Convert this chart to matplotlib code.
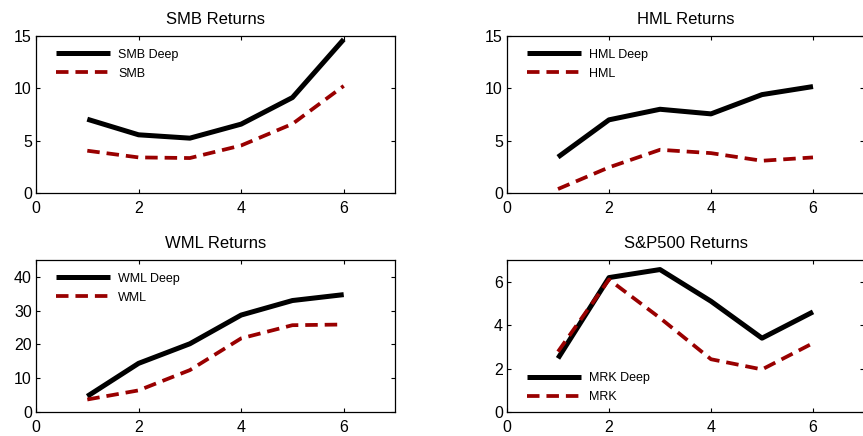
import matplotlib
matplotlib.use("Agg")
import matplotlib.pyplot as plt

plt.rcParams['font.family'] = ['Liberation Sans', 'DejaVu Sans']
plt.rcParams['lines.scale_dashes'] = False

horizon = [1, 2, 3, 4, 5, 6]

smb_deep = [7.05, 5.56, 5.24, 6.58, 9.12, 14.68]
smb = [4.04, 3.40, 3.34, 4.54, 6.60, 10.23]

hml_deep = [3.43, 6.99, 8.00, 7.56, 9.40, 10.17]
hml = [0.38, 2.45, 4.13, 3.81, 3.08, 3.40]

wml_deep = [4.65, 14.4, 20.2, 28.7, 33.0, 34.75]
wml = [3.7, 6.4, 12.4, 21.8, 25.7, 25.9]

mrk_deep = [2.47, 6.19, 6.56, 5.10, 3.40, 4.61]
mrk = [2.78, 6.10, 4.33, 2.43, 1.96, 3.17]

W, H = 863, 436
fig = plt.figure(figsize=(W / 100, H / 100), dpi=100)
fig.patch.set_facecolor('white')

DARK_RED = '#990000'


def add_panel(rect_px, title, deep, base, names, ylim, yticks, legend_at_top):
    left, top, right, bottom = rect_px
    w, h = right - left, bottom - top
    ax = fig.add_axes([left / W, 1 - bottom / H, w / W, h / H])
    ax.plot(horizon, deep, color='black', lw=3.6, solid_capstyle='butt', label=names[0])
    ax.plot(horizon, base, color=DARK_RED, lw=2.7, dashes=(9, 5),
            dash_capstyle='butt', label=names[1])
    ax.set_xlim(0, 7)
    ax.set_ylim(*ylim)
    ax.set_xticks([0, 2, 4, 6])
    ax.set_yticks(yticks)
    ax.tick_params(direction='in', top=True, right=True, length=3, width=0.8,
                   labelsize=11.5, colors='black')
    ax.tick_params(axis='x', pad=6)
    ax.tick_params(axis='y', pad=3)
    for sp in ax.spines.values():
        sp.set_linewidth(0.9)
    ax.set_title(title, fontsize=12, pad=8.5)

    # legend sits just inside the frame, top-left or bottom-left
    if legend_at_top:
        loc, anchor = 'upper left', (16 / w, 1 - 9 / h)
    else:
        loc, anchor = 'lower left', (16 / w, 5 / h)
    ax.legend(loc=loc, bbox_to_anchor=anchor, frameon=False, fontsize=9,
              handlelength=4.3, handletextpad=0.7, labelspacing=0.55,
              borderpad=0.3, borderaxespad=0)
    return ax


add_panel((36, 36, 395, 193), 'SMB Returns', smb_deep, smb, ('SMB Deep', 'SMB'),
          (0, 15), [0, 5, 10, 15], True)
add_panel((507, 36, 864, 193), 'HML Returns', hml_deep, hml, ('HML Deep', 'HML'),
          (0, 15), [0, 5, 10, 15], True)
add_panel((36, 260, 395, 412), 'WML Returns', wml_deep, wml, ('WML Deep', 'WML'),
          (0, 45), [0, 10, 20, 30, 40], True)
add_panel((507, 260, 864, 412), 'S&P500 Returns', mrk_deep, mrk, ('MRK Deep', 'MRK'),
          (0, 7), [0, 2, 4, 6], False)

fig.savefig('out.png', dpi=100)
